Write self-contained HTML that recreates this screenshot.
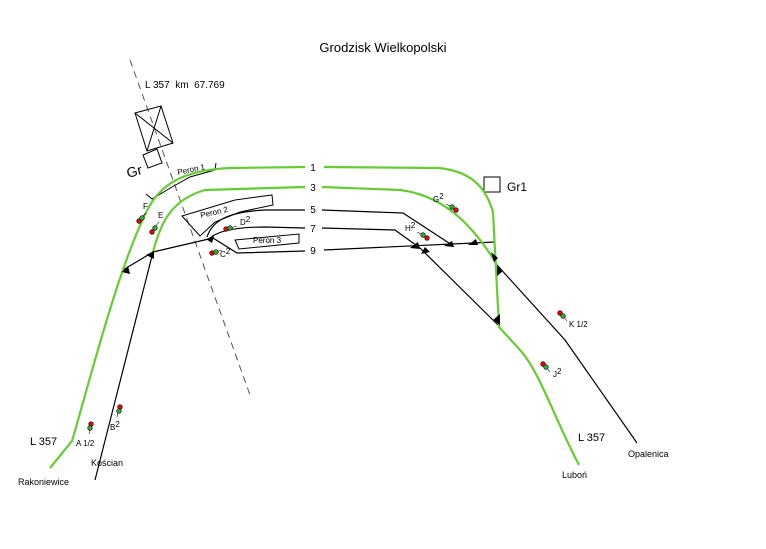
<!DOCTYPE html>
<html><head><meta charset="utf-8"><style>
html,body{margin:0;padding:0;background:#fff}
svg{display:block}
text{font-family:"Liberation Sans",sans-serif;fill:#000;white-space:pre}
</style></head><body>
<svg width="766" height="549" viewBox="0 0 766 549" xmlns="http://www.w3.org/2000/svg">
<text x="383" y="52" font-size="13" text-anchor="middle">Grodzisk Wielkopolski</text>
<text x="145" y="88" font-size="10" xml:space="preserve">L 357  km  67.769</text>
<line x1="130" y1="60" x2="250" y2="395" stroke="#555" stroke-width="1" stroke-dasharray="7,5"/>
<!-- building -->
<polygon points="135,113 161,106 173,143 147,151" fill="none" stroke="#000"/>
<line x1="135" y1="113" x2="173" y2="143" stroke="#000"/>
<line x1="161" y1="106" x2="147" y2="151" stroke="#000"/>
<polygon points="143,155 157,149 162,163 148,168" fill="none" stroke="#000"/>
<text x="128" y="178" font-size="14" transform="rotate(-15 128 178)">Gr</text>
<rect x="484" y="177" width="16" height="15" fill="none" stroke="#000"/>
<text x="507" y="191" font-size="12">Gr1</text>
<!-- platforms -->
<polyline points="146,194 152,199 172,187 190,177 215,170 216,163" fill="none" stroke="#000"/>
<text x="178" y="175" font-size="8" transform="rotate(-12 178 175)">Peron 1</text>
<polygon points="182,216 200,236 215,222 240,212 273,205 272,195 235,200" fill="none" stroke="#000"/>
<text x="201" y="218" font-size="8" transform="rotate(-13 201 218)">Peron 2</text>
<polygon points="235,240 299,234 299,243 239,249" fill="none" stroke="#000"/>
<text x="253" y="243" font-size="8">Peron 3</text>
<!-- black tracks -->
<g fill="none" stroke="#000" stroke-width="1.2">
<path d="M123,270 L153,252 L213,238"/>
<path d="M153,252 L95,480"/>
<path d="M213,238 L237,253 L305,251"/>
<path d="M324,250 L495,242"/>
<path d="M207,237 C212,222 225,212 265,210 L305,210"/>
<path d="M322,210 L403,213 L452,245"/>
<path d="M210,238 C218,231 235,227 265,227 L305,228"/>
<path d="M322,228 L395,230 L420,248"/>
<path d="M420,248 L498,325"/>
<path d="M497,265 L565,340 L637,443"/>
</g>
<!-- green tracks -->
<g fill="none" stroke="#6c3" stroke-width="2.2">
<path d="M50,468 L72,441 C90,380 120,260 150,205 C165,180 190,170 230,168 L305,167"/>
<path d="M324,167 L440,168 C470,172 485,185 493,212 L499,327 L520,350 C540,372 555,420 579,465"/>
<path d="M153,252 C160,225 170,200 205,190 L305,187"/>
<path d="M322,187 L400,190 C440,195 470,220 497,265"/>
</g>
<!-- switch triangles -->
<g fill="#000">
<polygon points="122,272 128,266 130,274"/>
<polygon points="146,255 154,251 154,259"/>
<polygon points="206,239 214,236 212,243"/>
<polygon points="410,248 418,242 420,249"/>
<polygon points="425,247 430,252 421,254"/>
<polygon points="444,246 452,241 454,247"/>
<polygon points="468,245 476,239 478,245"/>
<polygon points="491,252 498,258 494,262"/>
<polygon points="497,266 503,271 497,276"/>
<polygon points="493,320 500,314 500,325"/>
</g>
<!-- labels -->
<g font-size="10" text-anchor="middle">
<text x="313" y="171">1</text><text x="313" y="191">3</text>
<text x="313" y="213">5</text><text x="313" y="232">7</text><text x="313" y="254">9</text>
</g>
<text x="30" y="445" font-size="11">L 357</text>
<text x="578" y="441" font-size="11">L 357</text>
<text x="18" y="485" font-size="9">Rakoniewice</text>
<text x="91" y="466" font-size="9">Kościan</text>
<text x="562" y="478" font-size="9">Luboń</text>
<text x="628" y="457" font-size="9">Opalenica</text>
<g font-size="8">
<text x="143" y="209">F</text><text x="158" y="218">E</text>
<text x="240" y="225">D<tspan dy="-3">2</tspan></text>
<text x="220" y="257">C<tspan dy="-3">2</tspan></text>
<text x="433" y="202">G<tspan dy="-3">2</tspan></text>
<text x="405" y="231">H<tspan dy="-3">2</tspan></text>
<text x="569" y="327">K 1/2</text>
<text x="553" y="377">J<tspan dy="-3">2</tspan></text>
<text x="76" y="446">A 1/2</text>
<text x="110" y="430">B<tspan dy="-3">2</tspan></text>
</g>
<!-- signals -->
<g stroke="#000" stroke-width="0.6">
<line x1="141" y1="218" x2="146" y2="213"/><circle cx="139" cy="221" r="2.3" fill="#e00"/><circle cx="142" cy="218" r="2.3" fill="#3a3"/>
<line x1="155" y1="227" x2="159" y2="222"/><circle cx="152" cy="232" r="2.3" fill="#e00"/><circle cx="155" cy="228" r="2.3" fill="#3a3"/>
<line x1="230" y1="228" x2="237" y2="226"/><circle cx="226" cy="229" r="2.3" fill="#e00"/><circle cx="230" cy="228" r="2.3" fill="#3a3"/>
<line x1="216" y1="252" x2="222" y2="250"/><circle cx="212" cy="253" r="2.3" fill="#e00"/><circle cx="216" cy="252" r="2.3" fill="#3a3"/>
<line x1="446" y1="204" x2="452" y2="207"/><circle cx="452" cy="207" r="2.3" fill="#3a3"/><circle cx="456" cy="210" r="2.3" fill="#e00"/>
<line x1="417" y1="232" x2="423" y2="235"/><circle cx="423" cy="235" r="2.3" fill="#3a3"/><circle cx="427" cy="238" r="2.3" fill="#e00"/>
<line x1="563" y1="316" x2="567" y2="321"/><circle cx="560" cy="313" r="2.3" fill="#e00"/><circle cx="563" cy="316" r="2.3" fill="#3a3"/>
<line x1="546" y1="367" x2="550" y2="372"/><circle cx="543" cy="364" r="2.3" fill="#e00"/><circle cx="546" cy="367" r="2.3" fill="#3a3"/>
<line x1="90" y1="428" x2="89" y2="434"/><circle cx="91" cy="424" r="2.3" fill="#e00"/><circle cx="90" cy="428" r="2.3" fill="#3a3"/>
<line x1="118" y1="411" x2="117" y2="417"/><circle cx="120" cy="407" r="2.3" fill="#e00"/><circle cx="119" cy="411" r="2.3" fill="#3a3"/>
</g>
</svg>
</body></html>
